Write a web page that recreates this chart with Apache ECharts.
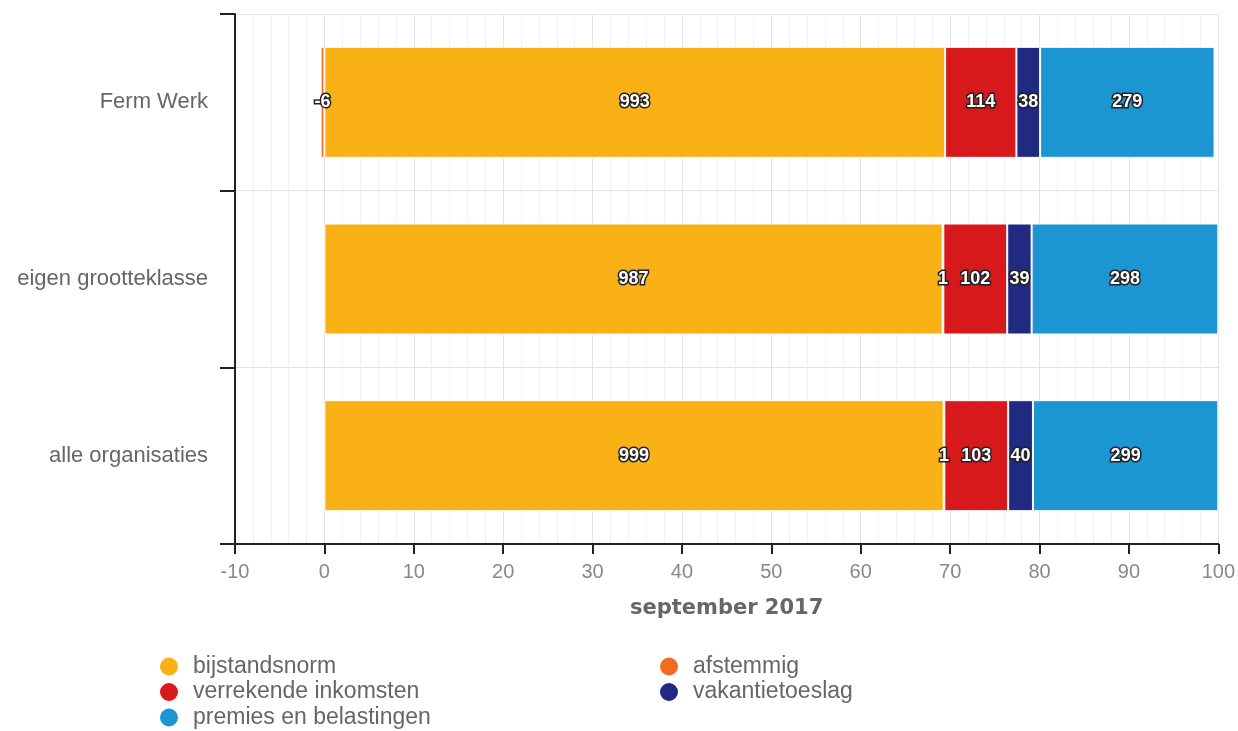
<!DOCTYPE html>
<html>
<head>
<meta charset="utf-8">
<script src="https://cdn.jsdelivr.net/npm/echarts@6/dist/echarts.min.js"></script>
<style>html,body{margin:0;padding:0;background:#fff}#c{width:1238px;height:731px}</style>
</head>
<body>
<div id="c"></div>
<script>
const categories = ["Ferm Werk", "eigen grootteklasse", "alle organisaties"];
const seriesNames = ["bijstandsnorm", "afstemmig", "verrekende inkomsten", "vakantietoeslag", "premies en belastingen"];
const bijstandsnorm = [993, 987, 999];
const afstemmig = [-6, 1, 1];
const verrekende = [114, 102, 103];
const vakantietoeslag = [38, 39, 40];
const premies = [279, 298, 299];
const colors = ["#F9B116", "#F26B21", "#D7191C", "#1F2A80", "#1B96D3"];
const xTicks = [-10, 0, 10, 20, 30, 40, 50, 60, 70, 80, 90, 100];

const raw = [bijstandsnorm, afstemmig, verrekende, vakantietoeslag, premies];
const totals = categories.map((_, i) => raw.reduce((s, arr) => s + Math.abs(arr[i]), 0));

const font = "Liberation Sans, Arial, sans-serif";
const series = seriesNames.map((name, si) => ({
  name: name,
  type: 'bar',
  stack: 'total',
  barWidth: 111,
  itemStyle: { color: colors[si], borderColor: '#ffffff', borderWidth: 1 },
  label: {
    show: true,
    position: 'inside',
    formatter: p => String(p.data.raw),
    color: '#ffffff',
    fontFamily: font,
    fontWeight: 'bold',
    fontSize: 18,
    textBorderColor: '#222',
    textBorderWidth: 3
  },
  data: raw[si].map((v, i) => ({ value: v / totals[i] * 100, raw: v }))
}));

const legendCommon = {
  orient: 'vertical', top: 655, icon: 'circle', padding: 0, height: 80,
  itemWidth: 20, itemHeight: 20, itemGap: 2.5,
  textStyle: { color: '#666', fontFamily: font, fontSize: 23, lineHeight: 20, padding: [0, 0, 0, 9] }
};

const chart = echarts.init(document.getElementById('c'), null, { renderer: 'canvas' });
chart.setOption({
  animation: false,
  color: colors,
  grid: { left: 235, right: 17, top: 14, bottom: 187, containLabel: false },
  xAxis: {
    type: 'value',
    min: xTicks[0],
    max: xTicks[xTicks.length - 1],
    interval: 10,
    name: 'september 2017',
    nameLocation: 'middle',
    nameGap: 54,
    nameTextStyle: { color: '#666', fontFamily: 'DejaVu Sans, sans-serif', fontWeight: 'bold', fontSize: 21 },
    axisLine: { show: true, lineStyle: { color: '#222', width: 2 } },
    axisTick: { show: true, length: 10, lineStyle: { color: '#222', width: 2 } },
    axisLabel: { color: '#888', fontFamily: font, fontSize: 20, margin: 18 },
    splitLine: { show: true, lineStyle: { color: '#e3e3e3', width: 1 } },
    minorTick: { show: false, splitNumber: 5 },
    minorSplitLine: { show: true, lineStyle: { color: '#f0f0f0', width: 1 } }
  },
  yAxis: {
    type: 'category',
    data: categories,
    inverse: true,
    axisLine: { show: true, onZero: false, lineStyle: { color: '#222', width: 2 } },
    axisTick: { show: true, length: 15, lineStyle: { color: '#222', width: 2 } },
    axisLabel: { color: '#666', fontFamily: font, fontSize: 22, margin: 27 },
    splitLine: { show: true, lineStyle: { color: '#e3e3e3', width: 1 } }
  },
  legend: [
    Object.assign({}, legendCommon, {
      data: ['bijstandsnorm', 'verrekende inkomsten', 'premies en belastingen'],
      left: 158
    }),
    Object.assign({}, legendCommon, {
      data: ['afstemmig', 'vakantietoeslag'],
      left: 658
    })
  ],
  series: series
});
</script>
</body>
</html>
